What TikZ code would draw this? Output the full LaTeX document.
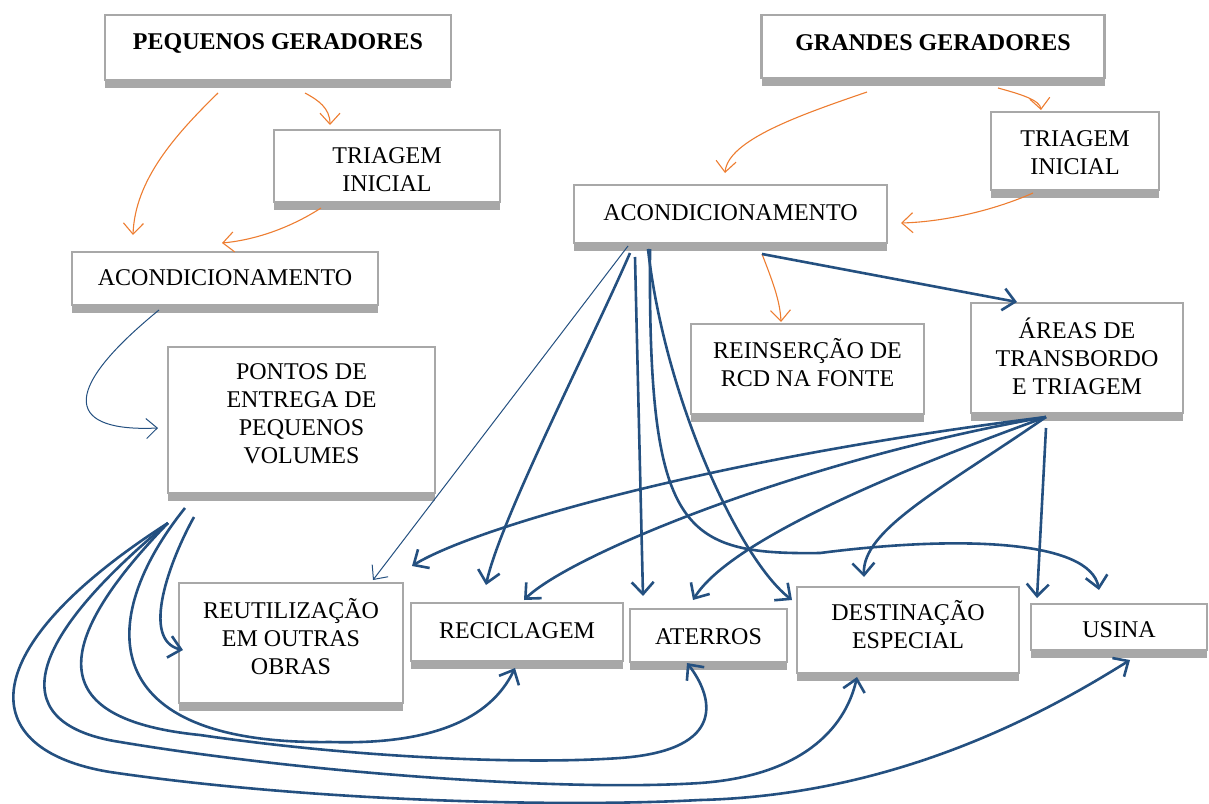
\documentclass[tikz,border=0pt]{standalone}
\usepackage{fontspec}
\setmainfont{Liberation Serif}
\usetikzlibrary{arrows.meta,calc,shadows}
\definecolor{boxgray}{RGB}{168,168,168}
\definecolor{shgray}{RGB}{168,168,168}
\definecolor{orng}{RGB}{237,125,49}
\definecolor{dblue}{RGB}{36,80,128}
\tikzset{
  box/.style={draw=boxgray, line width=2.5pt, fill=white, outer sep=0pt, inner sep=2pt,
    drop shadow={shadow xshift=0pt, shadow yshift=-8pt, fill=shgray, opacity=1}},
  txt/.style={font=\fontsize{24}{28}\selectfont, align=center, inner sep=0pt, label distance=0pt},
  oarr/.style={draw=orng, line width=1.1pt, -{Straight Barb[length=11pt,width=20pt]}},
  barr/.style={draw=dblue, line width=2.6pt, -{Straight Barb[length=12pt,width=22pt]}},
  tarr/.style={draw=dblue, line width=1pt, -{Straight Barb[length=11pt,width=20pt]}},
}
\begin{document}
\begin{tikzpicture}[x=1pt,y=-1pt]
\useasboundingbox (0,0) rectangle (1209,803);

% boxes
\node[box, minimum width=346pt, minimum height=65pt, label={[txt,yshift=4pt]center:{\textbf{PEQUENOS GERADORES}}}] (pg) at (278,47.5) {};
\node[box, minimum width=343pt, minimum height=63pt, label={[txt,yshift=4pt]center:{\textbf{GRANDES GERADORES}}}] (gg) at (933,46.5) {};
\node[box, minimum width=226pt, minimum height=72pt, label={[txt,yshift=-4pt]center:{TRIAGEM\\INICIAL}}] (tl) at (387,166) {};
\node[box, minimum width=306pt, minimum height=53pt, label={[txt,yshift=1pt]center:{ACONDICIONAMENTO}}] (al) at (225,278.5) {};
\node[box, minimum width=267pt, minimum height=146pt, label={[txt,yshift=6pt]center:{PONTOS DE\\ENTREGA DE\\PEQUENOS\\VOLUMES}}] (pv) at (301.5,420) {};
\node[box, minimum width=168pt, minimum height=78pt, label={[txt,yshift=-2pt]center:{TRIAGEM\\INICIAL}}] (tr) at (1075,151) {};
\node[box, minimum width=313pt, minimum height=58pt, label={[txt,yshift=1pt]center:{ACONDICIONAMENTO}}] (ar) at (730.5,214) {};
\node[box, minimum width=233pt, minimum height=90pt, label={[txt,yshift=6pt]center:{REINSERÇÃO DE\\RCD NA FONTE}}] (rf) at (807.5,369) {};
\node[box, minimum width=212pt, minimum height=110pt, label={[txt,yshift=2pt]center:{ÁREAS DE\\TRANSBORDO\\E TRIAGEM}}] (at) at (1077,358) {};
\node[box, minimum width=224pt, minimum height=120pt, label={[txt,yshift=6pt]center:{REUTILIZAÇÃO\\EM OUTRAS\\OBRAS}}] (ru) at (291,643) {};
\node[box, minimum width=212pt, minimum height=58pt, label={[txt,yshift=1pt]center:{RECICLAGEM}}] (rc) at (517,632) {};
\node[box, minimum width=157pt, minimum height=53pt, label={[txt,yshift=-1pt]center:{ATERROS}}] (ae) at (708.5,635.5) {};
\node[box, minimum width=222pt, minimum height=86pt, label={[txt,yshift=5pt]center:{DESTINAÇÃO\\ESPECIAL}}] (de) at (908,630) {};
\node[box, minimum width=176pt, minimum height=46pt, label={[txt,yshift=-3pt]center:{USINA}}] (us) at (1119,627) {};

% orange connectors
\draw[oarr] ($(pg.south)+(-60,13)$) .. controls (175,135) and (135,180) .. ($(al.north)+(-92,-17)$);
\draw[oarr] ($(pg.south)+(27,13)$) .. controls (318,100) and (330,108) .. ($(tl.north)+(-57,-5)$);
\draw[oarr] ($(tl.south)+(-66,6)$) .. controls (290,228) and (255,240) .. ($(al.north)+(-3,-9)$);
\draw[oarr] ($(gg.south)+(-66,14)$) .. controls (800,115) and (728,140) .. ($(ar.north)+(-5.5,-12)$);
\draw[oarr] ($(gg.south)+(65,10)$) .. controls (1020,94) and (1040,100) .. ($(tr.north)+(-34,-2)$);
\draw[oarr] ($(tr.south)+(-42,3)$) .. controls (990,212) and (940,222) .. ($(ar.east)+(14,9)$);
\draw[oarr] ($(ar.south)+(31.5,11)$) .. controls (772,280) and (780,300) .. ($(rf.north)+(-26.5,-2)$);

% thin blue connectors
\draw[tarr] ($(al.south)+(-66,5)$) .. controls (55,395) and (70,432) .. ($(pv.west)+(-10,8)$);
\draw[tarr] ($(ar.south)+(-102.5,3)$) -- ($(ru.north east)+(-30,-3)$);

% thick blue from ACONDICIONAMENTO (right)
\draw[barr] ($(ar.south)+(-100.5,10)$) .. controls (590,345) and (500,520) .. ($(rc.north)+(-31,-18)$);
\draw[barr] ($(ar.south)+(-95.5,14)$) -- ($(ae.north)+(-65.5,-13)$);
\draw[barr] ($(ar.south)+(-82.5,6)$) .. controls (665,400) and (740,560) .. ($(de.west)+(-5,-30)$);
\draw[barr] ($(ar.south)+(-80.5,6)$) .. controls (648,530) and (680,555) .. (820,553)
  .. controls (960,535) and (1090,540) .. ($(us.north)+(-20,-14)$);
\draw[barr] ($(ar.south)+(31.5,11)$) -- ($(at.north)+(-60,-1)$);

% from AREAS DE TRANSBORDO
\draw[barr] ($(at.south)+(-31,4)$) .. controls (700,460) and (470,530) .. ($(ru.north east)+(9,-17)$);
\draw[barr] ($(at.south)+(-31,4)$) .. controls (800,460) and (570,555) .. ($(rc.north)+(7,-3)$);
\draw[barr] ($(at.south)+(-31,4)$) .. controls (900,470) and (730,540) .. ($(ae.north)+(-15.5,-9)$);
\draw[barr] ($(at.south)+(-31,4)$) .. controls (940,490) and (862,530) .. ($(de.north)+(-44,-10)$);
\draw[barr] ($(at.south)+(-31,15)$) -- ($(us.north)+(-82,-6)$);

% from PONTOS DE ENTREGA
\draw[barr] ($(pv.south)+(-107.5,24)$) .. controls (170,560) and (140,640) .. ($(ru.west)+(4,7)$);
\draw[barr] ($(pv.south)+(-116.5,15)$) .. controls (95,620) and (95,745) .. (330,742)
  .. controls (430,745) and (490,720) .. ($(rc.south)+(-2,7)$);
\draw[barr] ($(pv.south)+(-133.5,30)$) .. controls (45,650) and (50,720) .. (200,735)
  .. controls (350,757) and (520,765) .. (620,758)
  .. controls (730,750) and (712,695) .. ($(ae.south)+(-21.5,1)$);
\draw[barr] ($(pv.south)+(-133.5,30)$) .. controls (15,650) and (10,725) .. (120,742)
  .. controls (300,772) and (560,792) .. (700,783)
  .. controls (800,776) and (845,730) .. ($(de.south)+(-51,4)$);
\draw[barr] ($(pv.south)+(-133.5,30)$) .. controls (-30,650) and (-25,750) .. (110,772)
  .. controls (300,800) and (550,808) .. (700,800)
  .. controls (900,795) and (1050,710) .. ($(us.south)+(11,10)$);
\end{tikzpicture}
\end{document}
